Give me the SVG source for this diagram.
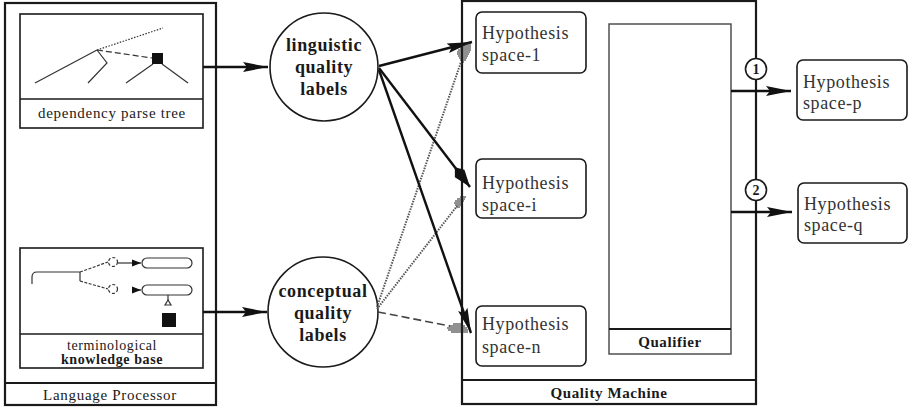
<svg xmlns="http://www.w3.org/2000/svg" width="909" height="408" viewBox="0 0 909 408">
<defs>
<style>
.frame{fill:none;stroke:#1a1a1a;stroke-width:2.2}
.box{fill:#fff;stroke:#1a1a1a;stroke-width:1.6}
.thin{fill:none;stroke:#333;stroke-width:1.2}
.lbl{font-family:"Liberation Serif","Times New Roman",serif;font-size:15px;fill:#1a1a1a;text-anchor:middle;letter-spacing:0.7px}
.lblb{font-family:"Liberation Serif","Times New Roman",serif;font-size:15px;font-weight:bold;fill:#1a1a1a;text-anchor:middle;letter-spacing:0.6px}
.kb{font-family:"Liberation Serif","Times New Roman",serif;font-size:14px;fill:#1a1a1a;text-anchor:middle;letter-spacing:0.6px}
.circ{font-family:"Liberation Serif","Times New Roman",serif;font-size:18px;font-weight:bold;fill:#1a1a1a;text-anchor:middle;letter-spacing:0.6px}
.hyp{font-family:"Liberation Serif","Times New Roman",serif;font-size:18px;fill:#333;letter-spacing:0.6px}
.num{font-family:"Liberation Serif","Times New Roman",serif;font-size:14px;font-weight:bold;fill:#1a1a1a;text-anchor:middle}
.thick{fill:none;stroke:#111;stroke-width:2.4}
.dot{fill:none;stroke:#555;stroke-width:2;stroke-dasharray:1.5 1.2}
.dash{fill:none;stroke:#444;stroke-width:1.6;stroke-dasharray:8 4}
.hatch{stroke:#222;stroke-width:1}
</style>
<marker id="ah" markerUnits="userSpaceOnUse" markerWidth="26" markerHeight="12" refX="25" refY="6" orient="auto">
<path d="M0,1 L25,6 L0,11 L4,6 z" fill="#111"/>
</marker>
<marker id="ahk" markerUnits="userSpaceOnUse" markerWidth="26" markerHeight="14" refX="25" refY="7" orient="auto">
<path d="M0,7 L8,1 L25,7 L8,13 z" fill="#111"/>
</marker>
<marker id="ahs" markerUnits="userSpaceOnUse" markerWidth="10" markerHeight="8" refX="9" refY="4" orient="auto">
<path d="M0,0.5 L9,4 L0,7.5 z" fill="#111"/>
</marker>
</defs>
<rect width="909" height="408" fill="#fff"/>

<g id="language-processor">
<rect class="frame" x="5" y="3" width="211" height="402"/>
<line class="frame" x1="5" y1="383" x2="216" y2="383"/>
<text class="lbl" x="110" y="400">Language Processor</text>
</g>

<g id="parse-tree">
<rect class="box" x="20" y="14" width="183" height="114"/>
<line class="box" x1="20" y1="99" x2="203" y2="99"/>
<text class="lbl" x="112" y="118">dependency parse tree</text>
<g class="thin">
<line x1="35" y1="83" x2="97" y2="50"/>
<polyline points="97,50 107,63 88,83"/>
<line x1="97" y1="50" x2="163" y2="28" stroke-dasharray="1.5 1.5"/>
<line x1="97" y1="50" x2="152" y2="58" stroke-dasharray="6 3"/>
<line x1="153" y1="64" x2="126" y2="83"/>
<line x1="162" y1="64" x2="188" y2="83"/>
</g>
<rect x="152" y="53" width="11" height="11" fill="#111"/>
</g>

<g id="knowledge-base">
<rect class="box" x="20" y="248" width="183" height="120"/>
<line class="box" x1="20" y1="334" x2="203" y2="334"/>
<text class="kb" x="112" y="350">terminological</text>
<text class="kb" x="112" y="364" font-weight="bold">knowledge base</text>
<g class="thin">
<path d="M80,272 H37 Q32,272 32,277 V284"/>
<line x1="80" y1="272" x2="80" y2="281"/>
<line x1="80" y1="272" x2="108" y2="262" stroke-dasharray="3 1.5"/>
<line x1="80" y1="281" x2="108" y2="289" stroke-dasharray="3 1.5"/>
<circle cx="113" cy="262" r="4.5" stroke-dasharray="3 2"/>
<circle cx="113" cy="289" r="4.5" stroke-dasharray="3 2"/>
<line x1="118" y1="263" x2="141" y2="263" marker-end="url(#ahs)"/>
<line x1="133" y1="290" x2="141" y2="290" marker-end="url(#ahs)"/>
<rect x="142" y="258" width="50" height="10" rx="5"/>
<rect x="142" y="285" width="50" height="10" rx="5"/>
<line x1="168" y1="295" x2="168" y2="300"/>
<path d="M168,300 L165,305 L171,305 z"/>
</g>
<rect x="162" y="313" width="14" height="14" fill="#111"/>
</g>

<g id="linguistic-labels">
<circle cx="324" cy="67" r="54" fill="#fff" stroke="#1a1a1a" stroke-width="1.6"/>
<text class="circ" x="324" y="51">linguistic</text>
<text class="circ" x="324" y="73">quality</text>
<text class="circ" x="324" y="95">labels</text>
</g>

<g id="conceptual-labels">
<circle cx="323" cy="312" r="55" fill="#fff" stroke="#1a1a1a" stroke-width="1.6"/>
<text class="circ" x="323" y="297">conceptual</text>
<text class="circ" x="323" y="319">quality</text>
<text class="circ" x="323" y="341">labels</text>
</g>

<g id="quality-machine">
<rect class="frame" x="462" y="1" width="294" height="403"/>
<line class="frame" x1="462" y1="380" x2="756" y2="380"/>
<text class="lblb" x="609" y="398">Quality Machine</text>
</g>

<g id="hyp-1">
<rect class="box" x="476" y="12" width="110" height="61" rx="6"/>
<text class="hyp" x="482" y="39">Hypothesis</text>
<text class="hyp" x="482" y="61">space-1</text>
</g>
<g id="hyp-i">
<rect class="box" x="476" y="159" width="110" height="59" rx="6"/>
<text class="hyp" x="482" y="189">Hypothesis</text>
<text class="hyp" x="482" y="211">space-i</text>
</g>
<g id="hyp-n">
<rect class="box" x="476" y="306" width="110" height="60" rx="6"/>
<text class="hyp" x="482" y="330">Hypothesis</text>
<text class="hyp" x="482" y="353">space-n</text>
</g>

<g id="qualifier">
<rect x="609" y="24" width="122" height="330" fill="#fff" stroke="#444" stroke-width="1.4"/>
<line x1="609" y1="329" x2="731" y2="329" stroke="#1a1a1a" stroke-width="1.8"/>
<text class="lblb" x="670" y="347">Qualifier</text>
</g>

<g id="hyp-p">
<rect class="box" x="797" y="60" width="110" height="60" rx="6"/>
<text class="hyp" x="803" y="88">Hypothesis</text>
<text class="hyp" x="803" y="109">space-p</text>
</g>
<g id="hyp-q">
<rect class="box" x="798" y="183" width="109" height="60" rx="6"/>
<text class="hyp" x="804" y="210">Hypothesis</text>
<text class="hyp" x="804" y="231">space-q</text>
</g>

<g id="connectors">
<line class="thick" x1="203" y1="67" x2="268" y2="67" marker-end="url(#ah)"/>
<line class="thick" x1="203" y1="312" x2="267" y2="312" marker-end="url(#ah)"/>

<line class="dot" x1="377" y1="307" x2="461" y2="62"/>
<line class="dot" x1="377" y1="309" x2="457" y2="206"/>
<line class="dash" x1="378" y1="312" x2="450" y2="326"/>

<line class="thick" x1="379" y1="66" x2="472" y2="42" marker-end="url(#ah)"/>
<line class="thick" x1="379" y1="68" x2="470" y2="187" marker-end="url(#ahk)"/>
<line class="thick" x1="379" y1="70" x2="471" y2="333" marker-end="url(#ah)"/>

<g class="hatch">
<line x1="465" y1="44" x2="471" y2="44"/>
<line x1="462" y1="46" x2="471" y2="46"/>
<line x1="460" y1="48" x2="471" y2="48"/>
<line x1="458" y1="50" x2="471" y2="50"/>
<line x1="457" y1="52" x2="470" y2="52"/>
<line x1="457" y1="54" x2="469" y2="54"/>
<line x1="458" y1="56" x2="468" y2="56"/>
<line x1="459" y1="58" x2="467" y2="58"/>
<line x1="460" y1="60" x2="466" y2="60"/>
<line x1="461" y1="62" x2="464" y2="62"/>

<line x1="460" y1="197" x2="466" y2="197"/>
<line x1="457" y1="199" x2="465" y2="199"/>
<line x1="455" y1="201" x2="464" y2="201"/>
<line x1="454" y1="203" x2="463" y2="203"/>
<line x1="455" y1="205" x2="462" y2="205"/>
<line x1="456" y1="207" x2="460" y2="207"/>

<line x1="453" y1="324" x2="462" y2="324"/>
<line x1="449" y1="326" x2="465" y2="326"/>
<line x1="447" y1="328" x2="467" y2="328"/>
<line x1="448" y1="330" x2="468" y2="330"/>
<line x1="451" y1="332" x2="468" y2="332"/>
</g>

<line class="thick" x1="731" y1="91" x2="791" y2="91" marker-end="url(#ah)"/>
<line class="thick" x1="731" y1="212" x2="792" y2="212" marker-end="url(#ah)"/>
</g>

<g id="selector-1">
<circle cx="756" cy="69" r="10.5" fill="#fff" stroke="#1a1a1a" stroke-width="1.6"/>
<text class="num" x="756" y="74">1</text>
</g>
<g id="selector-2">
<circle cx="756" cy="190" r="10.5" fill="#fff" stroke="#1a1a1a" stroke-width="1.6"/>
<text class="num" x="756" y="195">2</text>
</g>
</svg>
